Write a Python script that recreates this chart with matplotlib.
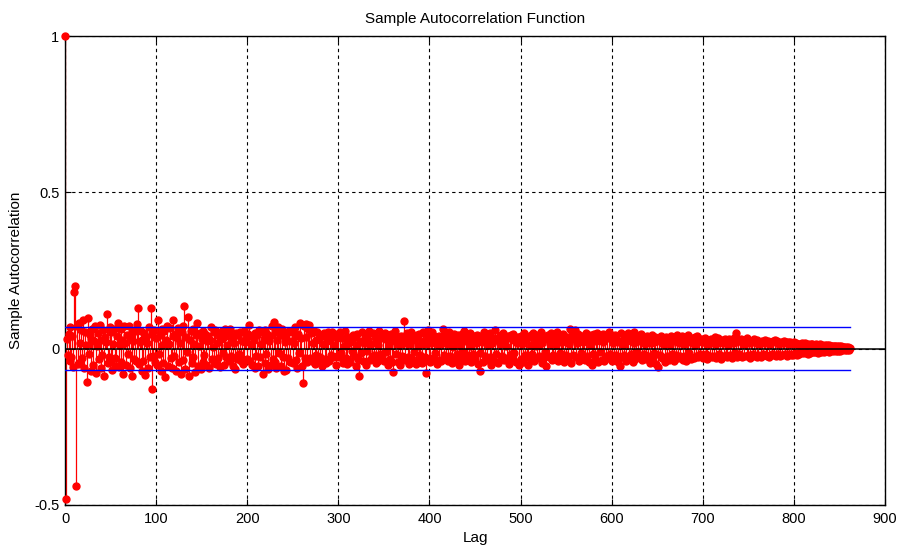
import numpy as np
import matplotlib
matplotlib.use("Agg")
import matplotlib.pyplot as plt

# Sample autocorrelation values (lags 0..862)
acf_000 = [1, -.48, .032, -.021, .047, -.038, .068, -.027, .041, -.058,
           .18, .20, -.44, .072, -.049, .083, .018, -.042, .061, -.029,
           .092, -.063, .054, .011, -.108, .098, -.016, .044, -.072, .031,
           .064, -.052, .023, .071, -.079, .008, .049, -.034, .077, -.061,
           .028, -.019, .059, -.088, .037, .021, .112, -.047, -.026, .069,
           -.043, .053, -.067, .015, .062, -.031, -.054, .039, .081, -.058,
           .012, .063, -.044, .027, -.081, .074, .019, -.051, .043, -.017,
           .072, -.063, .034, .052, -.086, .024, -.033, .057, -.041, .079,
           .13, -.048, .022, .058, -.071, .029, -.039, .051, -.083, .036,
           .017, -.062, .069, -.028, .13, -.128, .047, -.022, .061, -.044]
acf_100 = [.034, -.052, .091, -.018, .043, -.071, .062, .012, -.045, .055,
           -.09, .027, .074, -.056, .015, .066, -.031, -.063, .041, .092,
           -.024, .048, -.073, .033, .065, -.042, .019, -.082, .053, -.035,
           .071, .138, -.064, .038, -.011, .102, -.088, .029, .057, -.047,
           .063, -.026, .016, -.075, .044, .083, -.054, .009, .051, -.066,
           .032, -.043, .058, -.021, .047, -.052, .024, .039, -.061, .028,
           .069, -.034, .006, .054, -.045, .061, -.049, .017, -.029, .042,
           -.058, .031, .056, -.014, .038, -.053, .064, -.027, .011, .046,
           -.039, .062, -.023, .028, -.055, .041, .018, -.064, .049, -.032,
           .043, -.017, .053, -.041, .026, -.049, .058, -.036, .021, .037]
acf_200 = [-.034, .048, .075, -.041, .016, -.052, .037, .029, -.063, .051,
           -.022, .043, -.055, .061, -.028, .014, .054, -.08, .032, -.046,
           .059, -.018, .047, -.064, .025, .039, -.051, .072, -.033, .085,
           -.042, .053, -.061, .027, .068, -.015, .044, -.057, .063, -.026,
           -.071, .036, .021, -.069, .049, -.031, .058, -.044, .024, .052,
           -.047, .019, .069, -.035, .041, -.062, .046, -.013, .081, .033,
           -.054, -.11, .071, -.029, .038, .08, -.043, .064, .077, -.031,
           .049, -.039, .018, .058, -.048, .027, -.021, .053, -.037, .034,
           -.028, .042, -.056, .016, .049, -.033, .039, -.045, .023, .052,
           -.041, .031, -.019, .054, -.027, .012, .046, -.052, .035, -.024]
acf_300 = [.041, -.027, .052, -.013, .034, -.046, .008, .057, -.031, .022,
           -.049, .036, .017, -.042, .028, -.006, .045, -.024, .038, -.055,
           .012, .048, -.033, -.087, .026, -.015, .053, -.039, .019, .031,
           -.051, .044, -.009, .027, .058, -.036, .014, -.028, .049, -.021,
           .037, -.047, .024, .011, -.041, .055, -.018, .033, -.029, .043,
           -.038, .051, -.012, .029, -.053, .039, .007, -.034, .046, -.044,
           -.075, .023, .056, -.016, .035, -.043, .021, .013, -.052, .042,
           -.025, .031, .09, -.037, .018, .049, -.028, .036, -.048, .016,
           .054, -.032, .027, -.011, .038, -.05, .044, .009, -.039, .047,
           -.019, .025, -.045, .052, .014, -.026, -.078, .037, .061, -.033]
acf_400 = [.028, -.043, .017, .052, -.031, .039, -.014, .026, -.049, .011,
           .042, -.035, .021, -.038, .033, .064, -.019, .045, -.027, .015,
           -.041, .032, .054, -.022, .027, -.045, .006, .048, -.036, .024,
           -.017, .043, -.052, .031, .013, -.029, .046, -.011, .055, -.039,
           .025, -.021, .037, -.033, .009, .051, -.044, .029, -.016, .041,
           -.034, .018, .044, -.048, .026, -.013, -.07, .039, .022, -.042,
           .053, -.024, .031, -.037, .012, .046, -.028, .049, -.052, .019,
           .035, -.04, .06, -.018, .027, -.047, .038, .016, -.032, .044,
           -.023, .051, -.036, .028, .01, -.031, .042, -.05, .033, -.017,
           .045, -.029, .047, -.014, .024, -.043, .019, .037, -.051, .026]
acf_500 = [-.033, .041, .016, -.044, .049, -.021, .032, -.027, -.053, .038,
           .013, -.035, .043, -.018, .051, -.039, .028, .009, -.031, .045,
           -.024, .034, .052, -.046, .019, -.029, .041, -.012, -.054, .03,
           .044, -.026, .015, .049, -.037, .027, -.02, .039, -.034, .011,
           .053, -.041, .029, -.015, .043, -.03, .022, .048, -.043, .025,
           -.019, .037, -.033, .014, .062, -.045, .031, .055, -.021, .04,
           .06, -.028, .018, .047, -.039, .026, -.014, .042, -.032, .021,
           .038, -.036, .051, -.023, .029, -.042, .012, .044, -.052, .033,
           -.017, .046, -.031, .024, .05, -.043, .027, -.011, .039, -.035,
           .02, .048, -.04, .032, -.024, .041, -.029, .053, -.018, .03]
acf_600 = [-.041, .034, .017, -.032, .045, -.019, .028, -.043, .022, -.055,
           .051, -.027, .013, .042, -.021, .033, -.038, .025, .049, -.03,
           .044, -.016, .029, -.042, .052, .019, -.034, .031, -.012, .04,
           -.028, .023, .046, -.037, .027, -.018, .035, .014, -.033, .039,
           -.022, .031, -.046, .017, .043, -.026, .021, -.015, .036, -.048,
           .024, -.058, .032, -.019, .041, -.031, .015, .028, -.044, .02,
           .038, -.023, .026, -.035, .011, .042, -.017, .033, -.04, .024,
           .03, -.021, .045, -.029, .018, -.025, .034, .04, -.036, .016,
           -.024, .032, -.038, .021, .043, -.015, .029, -.033, .019, .035,
           -.031, .013, .037, -.022, .041, -.027, .024, -.018, .032, .021]
acf_700 = [-.031, .022, .035, -.018, .027, -.033, .015, .029, -.024, .032,
           -.027, .019, -.022, .036, .014, -.029, .021, .033, -.016, .025,
           -.034, .028, .017, -.023, .031, -.019, .024, -.028, .013, .03,
           -.021, .026, -.03, .018, .034, -.015, .022, .05, -.026, .029,
           -.018, .023, .031, -.027, .016, -.022, .028, .019, -.025, .033,
           -.02, .017, -.029, .024, .021, -.016, .03, -.023, .018, -.026,
           .029, -.019, .022, .015, -.027, .025, -.017, .02, .028, -.021,
           .018, -.024, .023, -.026, .016, .021, -.018, .025, -.02, .027,
           -.022, .019, .024, -.017, .015, -.025, .022, -.019, .017, .023,
           -.018, .021, -.023, .016, .02, -.017, .022, -.019, .015, -.021]
acf_800 = [.02, -.015, .018, -.02, .012, .016, -.018, .014, -.012, .019,
           -.015, .013, .017, -.014, .011, -.016, .015, .012, -.013, .014,
           .016, -.012, .013, -.011, .015, .01, -.013, .012, -.01, .014,
           -.011, .012, .009, -.012, .011, -.009, .013, .008, -.01, .011,
           -.008, .01, .007, -.009, .008, .01, -.007, .008, -.006, .009,
           .006, -.007, .008, -.005, .006, .004, -.005, .006, -.004, .005,
           .003, -.004, .003]
conf_bound = 0.068

acf = np.array(acf_000 + acf_100 + acf_200 + acf_300 + acf_400 +
               acf_500 + acf_600 + acf_700 + acf_800)
lags = np.arange(len(acf))

plt.rcParams['font.family'] = ['Liberation Sans', 'DejaVu Sans']
fig = plt.figure(figsize=(8.98, 5.47), dpi=100)
ax = fig.add_axes([65/898, 1-505/547, 820/898, 469/547])

markerline, stemlines, baseline = ax.stem(lags, acf, linefmt='r-', markerfmt='ro', basefmt=' ')
stemlines.set_linewidth(0.9)
stemlines.set_color('red')
markerline.set_markersize(5)
markerline.set_markeredgecolor('red')
markerline.set_markerfacecolor('red')
markerline.set_clip_on(False)
markerline.set_zorder(3)
stemlines.set_zorder(2)

ax.axhline(0, color='black', lw=1.1, zorder=4)
ax.plot([lags[0], lags[-1]], [conf_bound, conf_bound], color='blue', lw=1.0, zorder=5)
ax.plot([lags[0], lags[-1]], [-conf_bound, -conf_bound], color='blue', lw=1.0, zorder=5)

ax.set_xlim(0, 900)
ax.set_ylim(-0.5, 1)
ax.set_xticks(np.arange(0, 901, 100))
ax.set_yticks([-0.5, 0, 0.5, 1])
ax.set_yticklabels(['-0.5', '0', '0.5', '1'])
ax.grid(True, color='black', linestyle=(0, (3, 3)), lw=0.8)
ax.set_axisbelow(True)
ax.tick_params(direction='in', length=4, top=True, right=True, labelsize=10.5)
ax.tick_params(axis='x', pad=5)
ax.tick_params(axis='y', pad=4)
for s in ax.spines.values():
    s.set_linewidth(1.0)

ax.set_title('Sample Autocorrelation Function', fontsize=11, pad=9)
ax.set_xlabel('Lag', fontsize=11)
ax.xaxis.set_label_coords(0.5, -(531-505)/469)
ax.set_ylabel('Sample Autocorrelation', fontsize=11)
ax.yaxis.set_label_coords(-(65-23)/820, 0.5)

fig.savefig('out.png', dpi=100)
